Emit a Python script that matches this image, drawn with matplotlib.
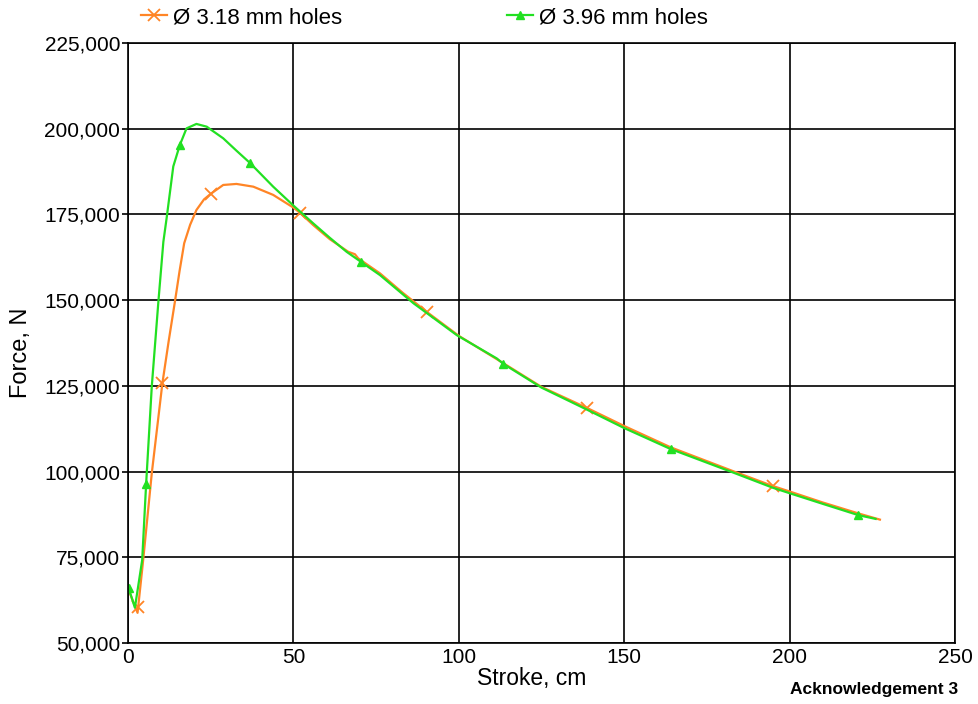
import matplotlib
matplotlib.use("Agg")
import matplotlib.pyplot as plt
from matplotlib.ticker import FuncFormatter

plt.rcParams['font.family'] = ['Liberation Sans', 'DejaVu Sans']

# 3.18 mm holes (orange)
stroke_318 = [0.6, 2.9, 3.1, 4.6, 7.2, 10.4, 12.3, 14.2, 15.6, 17.0, 18.8, 20.7, 23.0,
              25.0, 28.8, 32.8, 37.9, 43.9, 50.0, 52.0, 56.0, 61.0, 66.6, 68.6, 69.6,
              76.2, 83.0, 90.3, 100.0, 113.5, 125.0, 138.9, 150.0, 164.0, 183.0, 194.9,
              200.0, 210.0, 220.8, 227.3]
force_318 = [64500, 58800, 60600, 74200, 99500, 125700, 138000, 149600, 158500, 166600,
             172000, 176300, 179400, 181000, 183600, 183900, 183100, 180700, 177000,
             175500, 171900, 167800, 164100, 163400, 162200, 157800, 152200, 146600,
             139600, 131600, 124700, 118500, 113300, 107100, 100100, 95800, 94200,
             91000, 87800, 86000]
marks_318 = [2, 5, 13, 19, 27, 31, 35]

# 3.96 mm holes (green)
stroke_396 = [0.2, 2.1, 4.3, 5.5, 7.2, 9.2, 10.7, 11.7, 13.7, 15.7, 17.7, 20.7, 23.8,
              28.8, 32.8, 36.9, 43.9, 50.0, 56.0, 61.0, 66.1, 70.4, 76.2, 86.3, 99.4,
              111.5, 113.5, 125.0, 138.9, 150.0, 164.0, 183.0, 194.9, 200.0, 210.0,
              220.8, 226.0]
force_396 = [66000, 60300, 74200, 96500, 124800, 149600, 167000, 174000, 189000, 195300,
             200100, 201400, 200600, 197200, 193600, 190000, 183100, 177600, 172400,
             168200, 164100, 161200, 157300, 149100, 139800, 133000, 131400, 124500,
             118000, 112700, 106600, 99700, 95300, 93700, 90600, 87300, 86200]
marks_396 = [0, 3, 9, 15, 21, 26, 30, 35]

x_ticks = [0, 50, 100, 150, 200, 250]
y_ticks = [50000, 75000, 100000, 125000, 150000, 175000, 200000, 225000]

orange = '#FF8526'
green = '#22E022'

fig = plt.figure(figsize=(9.79, 7.04), dpi=100)
ax = fig.add_axes([0.1307, 0.0866, 0.8448, 0.8523])

l1, = ax.plot(stroke_318, force_318, color=orange, lw=1.6, marker='x', ms=9, mew=1.3,
              markevery=marks_318, label='\u00d8 3.18 mm holes')
l2, = ax.plot(stroke_396, force_396, color=green, lw=1.6, marker='^', ms=6, mew=1.0,
              markevery=marks_396, label='\u00d8 3.96 mm holes')

ax.set_xlim(0, 250)
ax.set_ylim(50000, 225000)
ax.set_xticks(x_ticks)
ax.set_yticks(y_ticks)
ax.yaxis.set_major_formatter(FuncFormatter(lambda v, p: f'{int(v):,}'))
ax.grid(True, color='black', lw=1.2)
for s in ax.spines.values():
    s.set_color('black')
    s.set_linewidth(1.2)
ax.tick_params(axis='both', labelsize=15, colors='black')
ax.tick_params(axis='y', length=4, width=1.2, pad=1.5)
ax.tick_params(axis='x', length=0, pad=3.5)

ax.set_xlabel('Stroke, cm', fontsize=16.5)
ax.xaxis.set_label_coords(0.4885, -0.040)
ax.set_ylabel('Force, N', fontsize=17)
ax.yaxis.set_label_coords(-0.116, 0.483)

fig.legend(handles=[l1, l2], loc='center left', bbox_to_anchor=(0.1233, 0.975), ncol=2,
           frameon=False, fontsize=16, handlelength=1.2, handletextpad=0.25,
           columnspacing=7.4)

fig.text(0.979, 0.020, 'Acknowledgement 3', ha='right', va='center', fontsize=12.5,
         fontweight='bold')

fig.savefig('out.png', dpi=100, facecolor='white')
